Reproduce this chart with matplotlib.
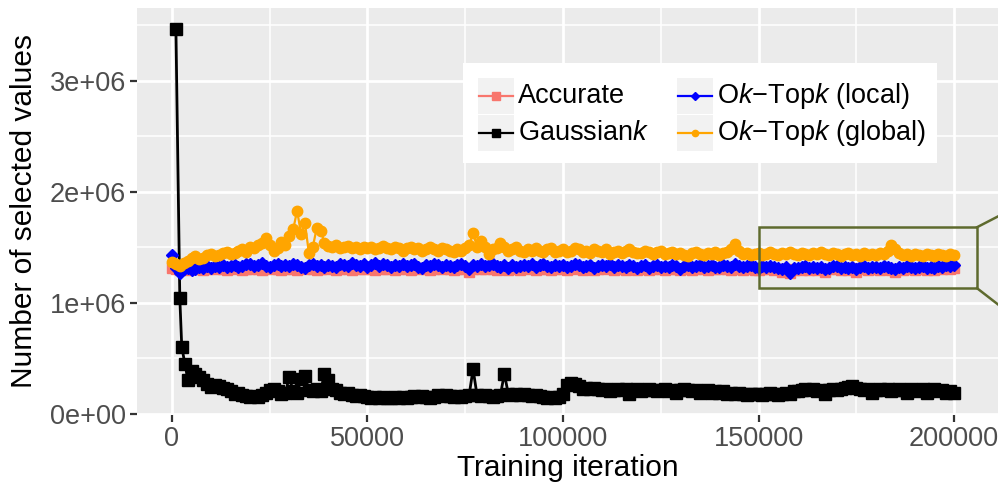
import numpy as np
import matplotlib
matplotlib.use("Agg")
import matplotlib.pyplot as plt
from matplotlib.patches import Rectangle
from matplotlib.lines import Line2D

plt.rcParams['font.family'] = ['Liberation Sans', 'DejaVu Sans']
plt.rcParams['mathtext.fontset'] = 'custom'
plt.rcParams['mathtext.rm'] = 'Liberation Sans'
plt.rcParams['mathtext.it'] = 'Liberation Sans:italic'

# logged every 1000 iterations, 0 .. 200000
iters = np.arange(0, 200001, 1000)

# number of selected values, in millions (one row = 10000 iterations)
accurate = [1.31, 1.30, 1.29, 1.30, 1.29, 1.30, 1.31, 1.30, 1.29, 1.30,
            1.31, 1.30, 1.31, 1.30, 1.29, 1.31, 1.30, 1.31, 1.29, 1.30,
            1.30, 1.31, 1.30, 1.29, 1.31, 1.30, 1.31, 1.30, 1.29, 1.30,
            1.31, 1.30, 1.29, 1.31, 1.30, 1.31, 1.30, 1.29, 1.30, 1.31,
            1.30, 1.31, 1.29, 1.30, 1.31, 1.30, 1.29, 1.31, 1.30, 1.30,
            1.31, 1.30, 1.29, 1.31, 1.30, 1.30, 1.31, 1.29, 1.30, 1.31,
            1.30, 1.29, 1.31, 1.30, 1.31, 1.30, 1.29, 1.30, 1.31, 1.30,
            1.31, 1.30, 1.29, 1.30, 1.31, 1.30, 1.28, 1.30, 1.31, 1.30,
            1.30, 1.31, 1.30, 1.29, 1.31, 1.30, 1.29, 1.31, 1.30, 1.29,
            1.31, 1.30, 1.31, 1.29, 1.30, 1.31, 1.30, 1.29, 1.30, 1.31,
            1.30, 1.29, 1.31, 1.30, 1.31, 1.29, 1.30, 1.31, 1.29, 1.30,
            1.31, 1.30, 1.31, 1.29, 1.30, 1.31, 1.29, 1.30, 1.31, 1.29,
            1.30, 1.31, 1.29, 1.30, 1.31, 1.30, 1.29, 1.30, 1.31, 1.30,
            1.29, 1.30, 1.31, 1.29, 1.30, 1.31, 1.30, 1.29, 1.31, 1.30,
            1.30, 1.31, 1.30, 1.29, 1.31, 1.30, 1.29, 1.30, 1.31, 1.29,
            1.29, 1.30, 1.31, 1.30, 1.29, 1.30, 1.28, 1.30, 1.27, 1.29,
            1.30, 1.29, 1.31, 1.29, 1.30, 1.29, 1.30, 1.28, 1.30, 1.31,
            1.30, 1.29, 1.30, 1.29, 1.31, 1.28, 1.30, 1.31, 1.29, 1.30,
            1.30, 1.29, 1.31, 1.30, 1.29, 1.28, 1.30, 1.29, 1.31, 1.30,
            1.29, 1.30, 1.31, 1.29, 1.30, 1.29, 1.31, 1.30, 1.31, 1.30,
            1.31]

local = [1.43, 1.31, 1.27, 1.30, 1.31, 1.29, 1.30, 1.32, 1.31, 1.33,
         1.31, 1.33, 1.32, 1.34, 1.32, 1.33, 1.34, 1.32, 1.33, 1.35,
         1.35, 1.33, 1.34, 1.36, 1.33, 1.32, 1.34, 1.35, 1.33, 1.34,
         1.33, 1.35, 1.34, 1.32, 1.31, 1.34, 1.35, 1.33, 1.34, 1.32,
         1.34, 1.33, 1.32, 1.35, 1.34, 1.33, 1.36, 1.34, 1.33, 1.35,
         1.32, 1.34, 1.36, 1.33, 1.35, 1.34, 1.32, 1.34, 1.33, 1.35,
         1.33, 1.34, 1.35, 1.32, 1.31, 1.34, 1.33, 1.35, 1.34, 1.32,
         1.34, 1.33, 1.32, 1.34, 1.35, 1.33, 1.30, 1.34, 1.33, 1.35,
         1.33, 1.34, 1.35, 1.33, 1.32, 1.34, 1.31, 1.34, 1.32, 1.33,
         1.34, 1.33, 1.35, 1.32, 1.34, 1.35, 1.33, 1.32, 1.34, 1.33,
         1.34, 1.32, 1.33, 1.35, 1.34, 1.32, 1.33, 1.34, 1.31, 1.33,
         1.34, 1.33, 1.35, 1.32, 1.34, 1.33, 1.32, 1.34, 1.33, 1.31,
         1.33, 1.34, 1.31, 1.33, 1.34, 1.32, 1.33, 1.32, 1.34, 1.33,
         1.30, 1.33, 1.34, 1.32, 1.33, 1.34, 1.32, 1.33, 1.34, 1.32,
         1.32, 1.34, 1.33, 1.32, 1.35, 1.33, 1.32, 1.33, 1.34, 1.32,
         1.31, 1.33, 1.32, 1.33, 1.32, 1.31, 1.30, 1.32, 1.27, 1.31,
         1.31, 1.32, 1.33, 1.31, 1.32, 1.31, 1.32, 1.30, 1.31, 1.33,
         1.33, 1.31, 1.32, 1.31, 1.32, 1.30, 1.32, 1.33, 1.31, 1.32,
         1.32, 1.31, 1.33, 1.32, 1.31, 1.30, 1.32, 1.31, 1.33, 1.32,
         1.31, 1.32, 1.33, 1.31, 1.32, 1.31, 1.33, 1.32, 1.34, 1.33,
         1.34]

global_ = [1.37, 1.35, 1.33, 1.36, 1.38, 1.40, 1.42, 1.39, 1.40, 1.43,
           1.44, 1.42, 1.43, 1.45, 1.46, 1.44, 1.45, 1.47, 1.48, 1.46,
           1.50, 1.49, 1.52, 1.54, 1.58, 1.52, 1.47, 1.49, 1.55, 1.52,
           1.60, 1.66, 1.83, 1.62, 1.72, 1.45, 1.50, 1.67, 1.65, 1.54,
           1.51, 1.50, 1.52, 1.49, 1.50, 1.51, 1.49, 1.50, 1.48, 1.50,
           1.49, 1.50, 1.48, 1.49, 1.51, 1.49, 1.48, 1.50, 1.49, 1.47,
           1.49, 1.50, 1.48, 1.49, 1.47, 1.48, 1.50, 1.48, 1.47, 1.49,
           1.48, 1.47, 1.46, 1.48, 1.47, 1.49, 1.52, 1.63, 1.50, 1.56,
           1.50, 1.44, 1.48, 1.49, 1.54, 1.50, 1.47, 1.48, 1.50, 1.47,
           1.46, 1.48, 1.47, 1.49, 1.47, 1.46, 1.48, 1.49, 1.46, 1.47,
           1.48, 1.46, 1.47, 1.49, 1.48, 1.46, 1.47, 1.45, 1.48, 1.47,
           1.46, 1.48, 1.44, 1.46, 1.47, 1.45, 1.47, 1.48, 1.46, 1.45,
           1.45, 1.47, 1.46, 1.44, 1.46, 1.47, 1.44, 1.45, 1.46, 1.44,
           1.45, 1.43, 1.42, 1.45, 1.46, 1.44, 1.43, 1.45, 1.44, 1.46,
           1.43, 1.45, 1.46, 1.48, 1.53, 1.47, 1.44, 1.45, 1.43, 1.44,
           1.45, 1.43, 1.44, 1.46, 1.44, 1.43, 1.45, 1.44, 1.46, 1.44,
           1.43, 1.45, 1.44, 1.43, 1.45, 1.44, 1.46, 1.44, 1.43, 1.45,
           1.44, 1.42, 1.44, 1.45, 1.43, 1.44, 1.42, 1.45, 1.43, 1.44,
           1.43, 1.45, 1.44, 1.47, 1.52, 1.48, 1.45, 1.43, 1.44, 1.42,
           1.44, 1.43, 1.42, 1.44, 1.43, 1.42, 1.44, 1.43, 1.42, 1.44,
           1.43]

# Gaussiank is logged more densely right after the start
gauss_iters = [1000, 2000, 2500, 3300, 4100] + list(range(5000, 200001, 1000))
gaussian = [3.47, 1.04, 0.60, 0.45, 0.30,
            0.38, 0.36, 0.33, 0.30, 0.27,
            0.24, 0.26, 0.25, 0.23, 0.22, 0.20, 0.18, 0.19, 0.17, 0.16,
            0.15, 0.16, 0.15, 0.17, 0.19, 0.21, 0.22, 0.20, 0.18, 0.19,
            0.33, 0.20, 0.19, 0.31, 0.34, 0.21, 0.20, 0.22, 0.20, 0.36,
            0.30, 0.22, 0.21, 0.19, 0.18, 0.19, 0.17, 0.16, 0.17, 0.16,
            0.15, 0.14, 0.15, 0.14, 0.15, 0.14, 0.14, 0.15, 0.14, 0.15,
            0.14, 0.15, 0.16, 0.15, 0.16, 0.15, 0.14, 0.15, 0.17, 0.16,
            0.17, 0.16, 0.15, 0.16, 0.15, 0.16, 0.17, 0.40, 0.17, 0.16,
            0.17, 0.16, 0.15, 0.16, 0.17, 0.36, 0.18, 0.17, 0.18, 0.17,
            0.18, 0.17, 0.16, 0.17, 0.16, 0.15, 0.14, 0.15, 0.14, 0.15,
            0.18, 0.26, 0.28, 0.27, 0.25, 0.22, 0.23, 0.22, 0.23, 0.22,
            0.21, 0.22, 0.20, 0.21, 0.22, 0.21, 0.22, 0.18, 0.21, 0.22,
            0.20, 0.21, 0.22, 0.21, 0.20, 0.21, 0.22, 0.20, 0.21, 0.19,
            0.21, 0.22, 0.21, 0.20, 0.21, 0.19, 0.20, 0.21, 0.19, 0.20,
            0.19, 0.20, 0.18, 0.19, 0.18, 0.19, 0.18, 0.17, 0.18, 0.18,
            0.18, 0.17, 0.18, 0.19, 0.18, 0.17, 0.18, 0.19, 0.18, 0.20,
            0.20, 0.21, 0.22, 0.21, 0.22, 0.20, 0.21, 0.18, 0.21, 0.22,
            0.21, 0.22, 0.23, 0.24, 0.25, 0.23, 0.22, 0.21, 0.22, 0.19,
            0.21, 0.22, 0.21, 0.22, 0.20, 0.21, 0.22, 0.21, 0.19, 0.22,
            0.21, 0.20, 0.22, 0.19, 0.21, 0.22, 0.20, 0.21, 0.19, 0.20,
            0.19]

accurate = np.array(accurate) * 1e6
local = np.array(local) * 1e6
global_ = np.array(global_) * 1e6
gaussian = np.array(gaussian) * 1e6

C_ACC = '#F8766D'
C_GAUSS = 'black'
C_LOCAL = '#0000FF'
C_GLOBAL = '#FFA500'
C_BOX = '#5E6A2E'

W, H = 998, 486
fig = plt.figure(figsize=(W / 100, H / 100), dpi=100)
ax = fig.add_axes([137 / W, 71 / H, 1 - 137 / W, 407 / H])
ax.set_facecolor('#EBEBEB')
for s in ax.spines.values():
    s.set_visible(False)

ax.plot(iters, accurate, color=C_ACC, lw=1.6, marker='s', ms=6.5, zorder=3)
ax.plot(gauss_iters, gaussian, color=C_GAUSS, lw=2.0, marker='s', ms=8, zorder=3)
ax.plot(iters, local, color=C_LOCAL, lw=1.6, marker='D', ms=6, zorder=3)
ax.plot(iters, global_, color=C_GLOBAL, lw=1.6, marker='o', ms=7.5, zorder=3)

ax.set_xlim(-8950, 211250)
ax.set_ylim(-0.012e6, 3.655e6)
ax.set_xticks([0, 50000, 100000, 150000, 200000])
ax.set_xticklabels(['0', '50000', '100000', '150000', '200000'])
ax.set_xticks([25000, 75000, 125000, 175000], minor=True)
ax.set_yticks([0, 1e6, 2e6, 3e6])
ax.set_yticklabels(['0e+00', '1e+06', '2e+06', '3e+06'])
ax.set_yticks([0.5e6, 1.5e6, 2.5e6, 3.5e6], minor=True)
ax.set_axisbelow(True)
ax.grid(which='major', color='white', lw=2.0)
ax.grid(which='minor', color='white', lw=1.1)
ax.tick_params(which='major', length=5, width=1.6, color='#333333',
               labelcolor='#4D4D4D', labelsize=19.5, pad=3)
ax.tick_params(which='minor', length=0)
ax.set_xlabel('Training iteration', fontsize=21.5, labelpad=1)
ax.set_ylabel('Number of selected values', fontsize=21.5, labelpad=8)

# zoom box around the tail of the run
ax.add_patch(Rectangle((150000, 1.13e6), 55900, 0.55e6, fill=False,
                       edgecolor=C_BOX, lw=1.8, zorder=6))
ax.plot([205900, 212500], [1.68e6, 1.80e6], color=C_BOX, lw=1.8,
        clip_on=False, zorder=6)
ax.plot([205900, 212500], [1.13e6, 0.95e6], color=C_BOX, lw=1.8,
        clip_on=False, zorder=6)


def fx(x):
    return x / W


def fy(y):
    return 1 - y / H


# legend drawn by hand so the keys get their grey backgrounds
fig.add_artist(Rectangle((fx(463), fy(163)), 474 / W, 100 / H,
                         transform=fig.transFigure, facecolor='white',
                         edgecolor='none', zorder=5))
entries = [
    (478, 96, C_ACC, 's', 6, 'Accurate'),
    (478, 133, C_GAUSS, 's', 6, 'Gaussian$k$'),
    (677, 96, C_LOCAL, 'D', 4.5, 'O$k$\u2212Top$k$ (local)'),
    (677, 133, C_GLOBAL, 'o', 4.5, 'O$k$\u2212Top$k$ (global)'),
]
for kx, ky, col, mk, ms, label in entries:
    fig.add_artist(Rectangle((fx(kx), fy(ky + 18)), 36 / W, 36 / H,
                             transform=fig.transFigure, facecolor='#F2F2F2',
                             edgecolor='none', zorder=6))
    fig.add_artist(Line2D([fx(kx + 1), fx(kx + 35)], [fy(ky), fy(ky)],
                          transform=fig.transFigure, color=col, lw=1.6,
                          zorder=7))
    fig.add_artist(Line2D([fx(kx + 18)], [fy(ky)], transform=fig.transFigure,
                          color=col, marker=mk, ms=ms, lw=0, zorder=7))
    fig.text(fx(kx + 40), fy(ky), label, fontsize=19.5, va='center',
             ha='left', color='black', zorder=8)

fig.savefig('out.png', dpi=100)
